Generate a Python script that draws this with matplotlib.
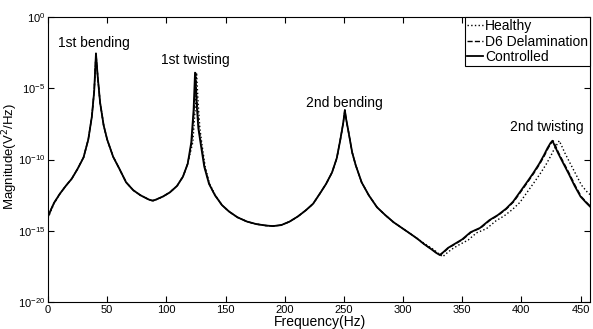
import numpy as np
import matplotlib
matplotlib.use('Agg')
import matplotlib.pyplot as plt

# Frequency points (Hz) and log10 magnitude
freq_ctrl = [0, 2, 5, 10, 15, 20, 25, 30, 34, 37, 39, 40.5, 42, 44, 47, 50, 55, 60, 66, 72, 78, 85, 88, 90,
             97, 103, 109, 114, 118, 121, 123, 124.2, 125.5, 127, 129, 132, 136, 141, 147, 153, 160, 168,
             176, 184, 190, 197, 204, 211, 218, 224, 230, 235, 240, 244, 247, 249.5, 250.8, 252, 254, 257,
             260, 265, 271, 278, 285, 292, 299, 306, 312, 318, 324, 328, 331, 334, 338, 343, 350, 357, 365,
             373, 380, 387, 393, 399, 405, 410, 415, 419, 422, 424.5, 426.2, 428, 431, 435, 440, 445, 450,
             455, 458]
logmag_ctrl = [-14.0, -13.6, -13.05, -12.4, -11.85, -11.35, -10.65, -9.85, -8.6, -7.0, -5.2, -2.55, -4.2,
               -6.0, -7.6, -8.6, -9.8, -10.6, -11.6, -12.15, -12.5, -12.8, -12.88, -12.85, -12.6, -12.3,
               -11.85, -11.2, -10.3, -8.8, -6.5, -3.9, -6.0, -7.8, -8.9, -10.5, -11.7, -12.5, -13.2, -13.65,
               -14.05, -14.35, -14.53, -14.63, -14.67, -14.6, -14.36, -14.0, -13.55, -13.1, -12.35, -11.7,
               -10.9, -9.9, -8.6, -7.4, -6.53, -7.2, -8.1, -9.5, -10.4, -11.6, -12.5, -13.35, -13.9, -14.4,
               -14.8, -15.2, -15.55, -15.95, -16.3, -16.55, -16.7, -16.5, -16.2, -15.95, -15.6, -15.1,
               -14.8, -14.25, -13.9, -13.45, -12.95, -12.25, -11.55, -10.95, -10.3, -9.7, -9.2, -8.85,
               -8.68, -9.0, -9.55, -10.2, -11.0, -11.85, -12.6, -13.05, -13.3]

freq_healthy = [0, 2, 5, 10, 15, 20, 25, 30, 34, 37, 39, 40.5, 42, 44, 47, 50, 55, 60, 66, 72, 78, 85, 88, 90,
                97, 103, 109, 114, 118, 122.3, 124.3, 125.5, 126.8, 128.3, 130, 132.8, 136.5, 141.3, 147,
                153, 160, 168, 176, 184, 190, 197, 204, 211, 218, 224, 230, 235, 240, 244, 247, 249.5,
                250.8, 252, 254, 257, 260, 265, 271, 278, 285, 292, 299, 306, 312, 319, 325.5, 330, 333.5,
                336.5, 341, 347, 355, 362, 370.5, 378.5, 385.5, 392.5, 398.8, 404.8, 410.8, 415.8, 420.8,
                424.8, 427.8, 430.3, 432, 433.8, 436.8, 440.8, 445.8, 450.8, 455.8, 460]
logmag_healthy = [-14.1, -13.7, -13.1, -12.4, -11.85, -11.35, -10.65, -9.85, -8.6, -7.0, -5.2, -2.55, -4.2,
                  -6.0, -7.6, -8.6, -9.8, -10.6, -11.6, -12.15, -12.5, -12.8, -12.9, -12.88, -12.6, -12.3,
                  -11.85, -11.2, -10.3, -8.8, -6.5, -3.9, -6.0, -7.8, -8.9, -10.5, -11.7, -12.5, -13.2,
                  -13.65, -14.05, -14.35, -14.53, -14.63, -14.67, -14.6, -14.36, -14.0, -13.55, -13.1,
                  -12.35, -11.7, -10.9, -9.9, -8.6, -7.4, -6.53, -7.2, -8.1, -9.5, -10.4, -11.6, -12.5,
                  -13.35, -13.9, -14.4, -14.8, -15.2, -15.55, -15.95, -16.3, -16.6, -16.82, -16.6, -16.3,
                  -16.0, -15.65, -15.15, -14.85, -14.3, -13.95, -13.5, -13.0, -12.3, -11.6, -11.0, -10.35,
                  -9.75, -9.25, -8.9, -8.68, -9.0, -9.55, -10.2, -11.0, -11.8, -12.3, -12.6]

freq_delam = [0, 2, 5, 10, 15, 20, 25, 30, 34, 37, 39, 40.5, 42, 44, 47, 50, 55, 60, 66, 72, 78, 85, 88, 90,
              97, 103, 109, 114, 118, 121.4, 123.4, 124.6, 125.9, 127.4, 129.4, 132.3, 136.2, 141, 147, 153,
              160, 168, 176, 184, 190, 197, 204, 211, 218, 224, 230, 235, 240, 244, 247, 249.5, 250.8, 252,
              254, 257, 260, 265, 271, 278, 285, 292, 299, 306, 312, 318, 324.3, 328.4, 331.5, 334.5, 338.5,
              343.6, 350.6, 357.6, 365.6, 373.6, 380.6, 387.6, 393.6, 399.6, 405.6, 410.6, 415.6, 419.6,
              422.6, 425.1, 426.8, 428.6, 431.6, 435.6, 440.6, 445.6, 450.6, 455.6, 458.6]
logmag_delam = logmag_ctrl

legend_labels = ['Healthy', 'D6 Delamination', 'Controlled']
mode_labels = ['1st bending', '1st twisting', '2nd bending', '2nd twisting']
mode_pos = [(38.4, -1.82), (124.2, -3.02), (250, -6.04), (421.5, -7.72)]

plt.rcParams['font.family'] = ['Liberation Sans', 'DejaVu Sans']
plt.rcParams['font.size'] = 8

fig = plt.figure(figsize=(5.93, 3.29), dpi=100)
ax = fig.add_axes([0.081, 0.082, 0.914, 0.866])

ax.semilogy(freq_healthy, 10.0 ** np.array(logmag_healthy), color='black', linestyle=':', lw=1.0,
            label=legend_labels[0])
ax.semilogy(freq_delam, 10.0 ** np.array(logmag_delam), color='black', linestyle='--', lw=1.0,
            label=legend_labels[1])
ax.semilogy(freq_ctrl, 10.0 ** np.array(logmag_ctrl), color='black', linestyle='-', lw=1.3,
            label=legend_labels[2])

for txt, (fx, fy) in zip(mode_labels, mode_pos):
    ax.text(fx, 10.0 ** fy, txt, ha='center', va='center', fontsize=10)

ax.set_xlim(0, 458)
ax.set_ylim(1e-20, 1e0)
ax.set_xticks(np.arange(0, 451, 50))
ax.set_yticks([1e-20, 1e-15, 1e-10, 1e-5, 1e0])
ax.yaxis.set_minor_locator(matplotlib.ticker.NullLocator())
ax.tick_params(direction='in', top=True, right=True, length=4, labelsize=8, pad=2)
ax.set_xlabel('Frequency(Hz)', fontsize=10)
ax.set_ylabel('Magnitude(V$^2$/Hz)', fontsize=9.5)
ax.xaxis.set_label_coords(0.501, -0.047)
ax.yaxis.set_label_coords(-0.052, 0.509)

leg = ax.legend(loc='upper right', fontsize=10, handlelength=1.15, handletextpad=0.15, borderpad=0.15,
                labelspacing=0.1, borderaxespad=0.0, fancybox=False, framealpha=1)
leg.get_frame().set_edgecolor('black')
leg.get_frame().set_linewidth(0.8)

fig.savefig('out.png', dpi=100)
